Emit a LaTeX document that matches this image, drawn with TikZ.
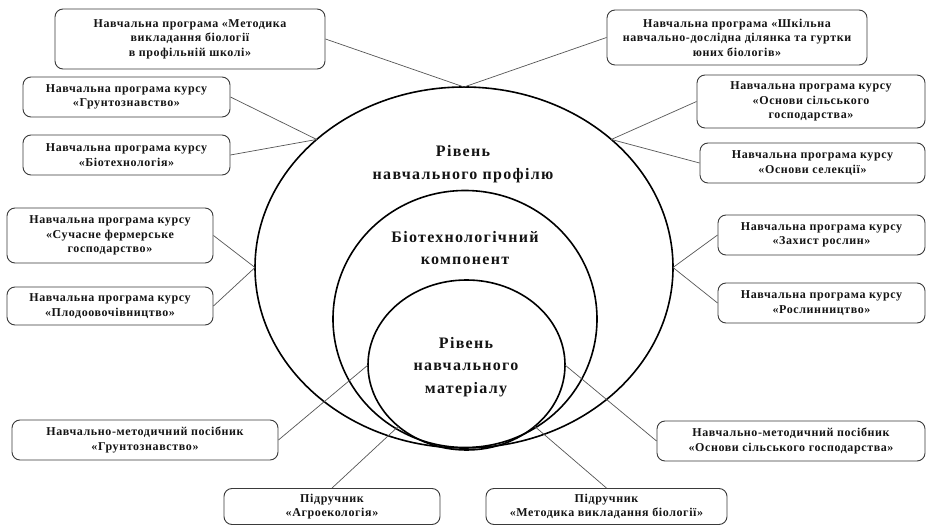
\documentclass[tikz,border=0pt]{standalone}
\usepackage{fontspec}
\setmainfont{Liberation Serif}
\newfontfamily\boxfont{Liberation Serif}[LetterSpace=5]
\newfontfamily\bigfont{Liberation Serif}[LetterSpace=8]
\usetikzlibrary{shapes.geometric}
\definecolor{boxc}{HTML}{3A3A3A}
\definecolor{linec}{HTML}{555555}
\definecolor{txt}{HTML}{141414}
\begin{document}
\begin{tikzpicture}[x=1pt,y=-1pt,
  box/.style={draw=boxc, line width=0.9pt, rounded corners=8pt, align=center,
    font=\boxfont\bfseries\fontsize{12}{14.5}\selectfont, text=txt, inner sep=0pt},
  ell/.style={draw=black, line width=1.6pt, ellipse, inner sep=0pt, outer sep=0pt},
  ctext/.style={align=center, font=\bigfont\bfseries\fontsize{16}{22.5}\selectfont, text=txt},
  conn/.style={draw=linec, line width=0.7pt}]
\useasboundingbox (0,0) rectangle (931,526);
\fill[white] (0,0) rectangle (931,526);
% ellipses
\node[ell, minimum width=418pt, minimum height=361pt] (outer) at (464,267.5) {};
\node[ell, minimum width=264pt, minimum height=257pt] (middle) at (465,319) {};
\node[ell, minimum width=197pt, minimum height=170pt] (inner) at (466.5,365) {};
% centre texts
\node[ctext] (t1) at (463,164) {Рівень\\навчального профілю};
\node[ctext] (t2) at (465,248) {Біотехнологічний\\компонент};
\node[ctext] (t3) at (466,367) {Рівень\\навчального\\матеріалу};
% boxes
\node[box, minimum width=270pt, minimum height=60pt] (b1) at (190,39) {Навчальна програма «Методика\\викладання біології\\в профільній школі»};
\node[box, minimum width=207pt, minimum height=40pt] (b2) at (126.5,97) {Навчальна програма курсу\\«Грунтознавство»};
\node[box, minimum width=207pt, minimum height=40pt] (b3) at (126.5,155) {Навчальна програма курсу\\«Біотехнологія»};
\node[box, minimum width=260pt, minimum height=55pt] (b4) at (737,37.5) {Навчальна програма «Шкільна\\навчально-дослідна ділянка та гуртки\\юних біологів»};
\node[box, minimum width=228pt, minimum height=53pt] (b5) at (811,101.5) {Навчальна програма курсу\\«Основи сільського\\господарства»};
\node[box, minimum width=225pt, minimum height=40pt] (b6) at (812.5,163) {Навчальна програма курсу\\«Основи селекції»};
\node[box, minimum width=206pt, minimum height=55pt] (b7) at (110,235.5) {Навчальна програма курсу\\«Сучасне фермерське\\господарство»};
\node[box, minimum width=206pt, minimum height=38pt] (b8) at (110,306) {Навчальна програма курсу\\«Плодоовочівництво»};
\node[box, minimum width=207pt, minimum height=40pt] (b9) at (821.5,235) {Навчальна програма курсу\\«Захист рослин»};
\node[box, minimum width=207pt, minimum height=40pt] (b10) at (821.5,303) {Навчальна програма курсу\\«Рослинництво»};
\node[box, minimum width=266pt, minimum height=40pt] (b11) at (145,440) {Навчально-методичний посібник\\«Грунтознавство»};
\node[box, minimum width=268pt, minimum height=40pt] (b12) at (791,441) {Навчально-методичний посібник\\«Основи сільського господарства»};
\node[box, minimum width=216pt, minimum height=36pt] (b13) at (332,506.5) {Підручник\\«Агроекологія»};
\node[box, minimum width=241pt, minimum height=36pt] (b14) at (606.5,506.5) {Підручник\\«Методика викладання біології»};
% connectors
\draw[conn] (b1.east) -- (outer.north);
\draw[conn] (b4.west) -- (outer.north);
\draw[conn] (b2.east) -- (outer.139.4);
\draw[conn] (b3.east) -- (outer.139.4);
\draw[conn] (b5.west) -- (outer.41);
\draw[conn] (b6.west) -- (outer.41);
\draw[conn] (b7.east) -- (outer.west);
\draw[conn] (b8.east) -- (outer.west);
\draw[conn] (b9.west) -- (outer.east);
\draw[conn] (b10.west) -- (outer.east);
\draw[conn] (b11.east) -- (inner.west);
\draw[conn] (b12.west) -- (inner.east);
\draw[conn] (b13.north) -- (inner.222);
\draw[conn] (b14.north) -- (inner.318);
\end{tikzpicture}
\end{document}
